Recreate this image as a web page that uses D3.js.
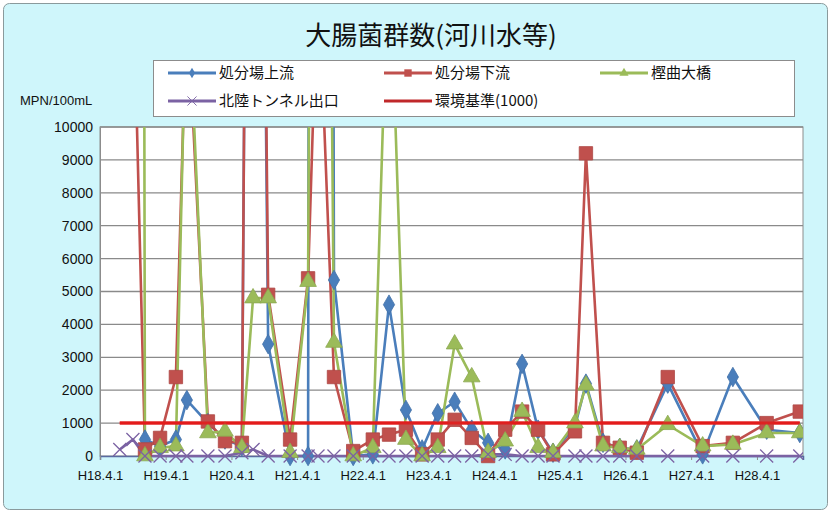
<!DOCTYPE html>
<html><head><meta charset="utf-8">
<script src="https://cdn.jsdelivr.net/npm/d3@7"></script>
<style>
html,body{margin:0;padding:0;background:#fff;}
svg{display:block;font-family:"Noto Sans CJK JP","Noto Sans",sans-serif;}
</style></head>
<body><svg id="c" width="831" height="516"></svg>
<script>
// ---- data ----
const dates = ["2006-07-20","2006-10-01","2006-12-07","2007-03-01","2007-05-28","2007-07-28","2007-11-22","2008-02-25","2008-05-29","2008-07-30","2008-10-22","2009-02-21","2009-06-01","2009-07-26","2009-10-23","2010-02-07","2010-05-27","2010-08-25","2010-11-27","2011-02-25","2011-05-23","2011-08-25","2011-11-28","2012-02-27","2012-06-01","2012-09-03","2012-12-01","2013-02-22","2013-06-24","2013-08-24","2013-11-27","2014-02-28","2014-06-03","2014-11-22","2015-06-04","2015-11-19","2016-05-25","2016-11-25"];
const upstream   = [null,null,500,300,500,1700,1000,500,300,50000,3400,0,0,200000,5350,0,50,4600,1400,200,1300,1650,800,400,200,2800,800,100,900,2200,400,250,200,2200,50,2400,800,700];
const downstream = [null,15000,200,550,2400,14000,1050,450,400,50000,4900,500,5400,15000,2400,150,500,650,800,50,500,1100,550,0,800,1350,800,50,750,9200,400,250,100,2400,300,400,1000,1350];
const kashimagari= [null,200000,0,250,300,15000,700,750,250,4800,4800,100,5300,60000,3450,0,250,16000,500,0,250,3400,2400,100,450,1350,250,100,1000,2150,300,250,200,950,300,350,700,700];
const hokuriku   = [200,500,0,0,0,0,0,0,100,200,0,0,0,0,0,0,0,0,0,0,0,0,0,50,50,0,0,0,0,0,0,0,0,0,0,0,0,0];
const standard   = dates.map(() => 1000);
const seriesNames = ["処分場上流","処分場下流","樫曲大橋","北陸トンネル出口","環境基準(1000)"];
const yTicks = [0,1000,2000,3000,4000,5000,6000,7000,8000,9000,10000];
const xTickDates  = ["2006-04-01","2007-04-01","2008-04-01","2009-04-01","2010-04-01","2011-04-01","2012-04-01","2013-04-01","2014-04-01","2015-04-01","2016-04-01"];
const xTickLabels = ["H18.4.1","H19.4.1","H20.4.1","H21.4.1","H22.4.1","H23.4.1","H24.4.1","H25.4.1","H26.4.1","H27.4.1","H28.4.1"];
const title = "大腸菌群数(河川水等)";
const yUnit = "MPN/100mL";

// ---- chart ----
const svg = d3.select("#c");
const parse = d3.timeParse("%Y-%m-%d");
const D = dates.map(parse);
const L = 100, R = 803, T = 127, B = 456;
const x = d3.scaleTime().domain([parse("2006-04-01"), parse("2016-12-13")]).range([L, R]);
const y = d3.scaleLinear().domain([0, 10000]).range([B, T]);

svg.append("rect").attr("x",3.5).attr("y",3.5).attr("width",824).attr("height",506)
  .attr("rx",6).attr("fill","#cff6fb").attr("stroke","#8a9a9c").attr("stroke-width",1);

svg.append("text").attr("x",431).attr("y",45).attr("text-anchor","middle")
  .attr("font-size",26).attr("fill","#111").text(title);

svg.append("text").attr("x",20).attr("y",105).attr("font-size",13).attr("fill","#111")
  .attr("font-family","Liberation Sans, Arial, sans-serif").text(yUnit);

// plot area
svg.append("rect").attr("x",L).attr("y",T).attr("width",R-L).attr("height",B-T)
  .attr("fill","#fff").attr("stroke","#8c8c8c").attr("stroke-width",1);

// gridlines
svg.append("g").selectAll("line").data(yTicks.filter(v=>v>0)).join("line")
  .attr("x1",L).attr("x2",R).attr("y1",d=>y(d)).attr("y2",d=>y(d))
  .attr("stroke","#8a8a8a").attr("stroke-width",1.3);

// y axis
const ya = svg.append("g").attr("transform",`translate(${L},0)`)
  .call(d3.axisLeft(y).tickValues(yTicks).tickFormat(d3.format("d")).tickSize(0).tickPadding(7));
ya.select(".domain").attr("stroke","#8c8c8c");
ya.selectAll("text").attr("font-size",14).attr("fill","#111")
  .attr("font-family","Liberation Sans, Arial, sans-serif");

// x axis
const xa = svg.append("g").attr("transform",`translate(0,${B})`)
  .call(d3.axisBottom(x).tickValues(xTickDates.map(parse))
    .tickFormat((d,i)=>xTickLabels[i]).tickSize(4).tickPadding(11));
xa.select(".domain").attr("stroke","#5a6aa0").attr("stroke-width",1.5);
xa.selectAll(".tick line").attr("stroke","#8c8c8c");
xa.selectAll("text").attr("font-size",13).attr("fill","#111")
  .attr("font-family","Liberation Sans, Arial, sans-serif");

// clip
svg.append("clipPath").attr("id","pc").append("rect")
  .attr("x",L).attr("y",T).attr("width",R-L).attr("height",B-T+12);

const series = [
  {name:seriesNames[0], vals:upstream,    color:"#4a7ebb", marker:"diamond"},
  {name:seriesNames[1], vals:downstream,  color:"#c0504d", marker:"square"},
  {name:seriesNames[2], vals:kashimagari, color:"#9bbb59", marker:"triangle"},
  {name:seriesNames[3], vals:hokuriku,    color:"#7b62a3", marker:"x"},
  {name:seriesNames[4], vals:standard,    color:"#e31b1b", marker:"none"}
];

const line = d3.line().defined(d=>d.v!=null).x(d=>x(d.d)).y(d=>y(d.v));
const g = svg.append("g").attr("clip-path","url(#pc)");

function markerPath(type){
  if(type==="diamond") return d3.symbol(d3.symbolDiamond, 110)();
  if(type==="square") return d3.symbol(d3.symbolSquare, 180)();
  if(type==="triangle") return d3.symbol(d3.symbolTriangle, 120)();
  if(type==="x"){ const s=6.5; return `M${-s},${-s}L${s},${s}M${-s},${s}L${s},${-s}`; }
  return "";
}

// lines
series.forEach((s,si)=>{
  const pts = D.map((d,i)=>({d, v:s.vals[i]}));
  g.append("path").datum(pts).attr("d",line).attr("fill","none")
    .attr("stroke",s.color).attr("stroke-width", si===4?3:2.6).attr("stroke-linejoin","round");
});
// markers
series.slice(0,4).forEach(s=>{
  const pts = D.map((d,i)=>({d, v:s.vals[i]})).filter(p=>p.v!=null && p.v<=10000);
  const m = g.append("g").selectAll("path").data(pts).join("path")
    .attr("transform",p=>`translate(${x(p.d)},${y(p.v)})`)
    .attr("d",markerPath(s.marker));
  if(s.marker==="x") m.attr("fill","none").attr("stroke",s.color).attr("stroke-width",1.3);
  else m.attr("fill",s.color).attr("stroke",d3.color(s.color).darker(0.3)).attr("stroke-width",0.8);
});
// standard line again on top
{
  const pts = D.map((d,i)=>({d, v:standard[i]}));
  g.append("path").datum(pts).attr("d",line).attr("fill","none")
    .attr("stroke","#e31b1b").attr("stroke-width",3).attr("opacity",0.85);
}

// legend
svg.append("rect").attr("x",153.5).attr("y",60.5).attr("width",641).attr("height",56)
  .attr("fill","#fff").attr("stroke","#8c8c8c");
const legPos = [[168,73],[384,73],[600,73],[168,101],[384,101]];
series.forEach((s,i)=>{
  const [lx,ly] = legPos[i];
  const lg = svg.append("g").attr("transform",`translate(${lx},${ly})`);
  lg.append("line").attr("x1",0).attr("x2",48).attr("y1",0).attr("y2",0)
    .attr("stroke", i===4?"#c0282a":s.color).attr("stroke-width",3);
  if(s.marker!=="none"){
    const mp = lg.append("path").attr("d",markerPath(s.marker));
    if(s.marker==="x") mp.attr("fill","none").attr("stroke",s.color).attr("stroke-width",1.3).attr("transform","translate(24,0) scale(0.7)");
    else mp.attr("fill",s.color).attr("transform","translate(24,0) scale(0.55)");
  }
  lg.append("text").attr("x",51).attr("y",5).attr("font-size",15).attr("fill","#111").text(s.name);
});
</script></body></html>
